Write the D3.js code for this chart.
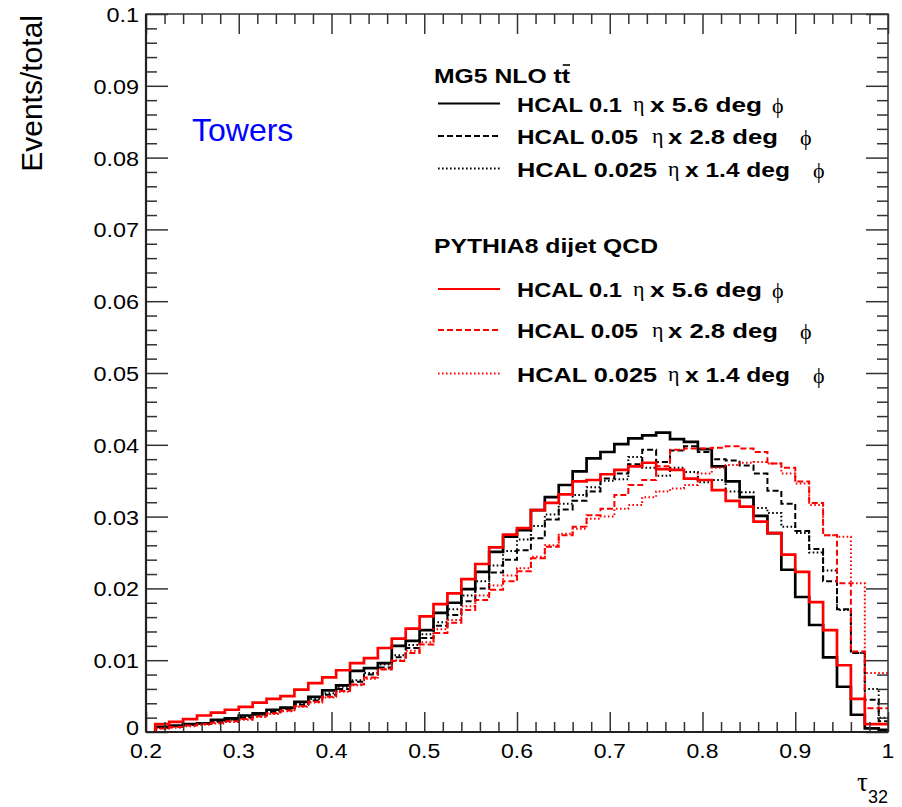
<!DOCTYPE html>
<html>
<head>
<meta charset="utf-8">
<script src="https://cdn.jsdelivr.net/npm/d3@7"></script>
<style>
  html, body { margin: 0; padding: 0; background: #ffffff; }
  svg { display: block; }
</style>
</head>
<body>
<svg id="chart" width="902" height="807"></svg>
<script>
// Lower edges of the tau32 bins (bin width 0.015)
const binLow = [0.210, 0.225, 0.240, 0.255, 0.270, 0.285, 0.300, 0.315, 0.330, 0.345,
                0.360, 0.375, 0.390, 0.405, 0.420, 0.435, 0.450, 0.465, 0.480, 0.495,
                0.510, 0.525, 0.540, 0.555, 0.570, 0.585, 0.600, 0.615, 0.630, 0.645,
                0.660, 0.675, 0.690, 0.705, 0.720, 0.735, 0.750, 0.765, 0.780, 0.795,
                0.810, 0.825, 0.840, 0.855, 0.870, 0.885, 0.900, 0.915, 0.930, 0.945,
                0.960, 0.975, 0.990];
const binWidth = 0.015;

// MG5 NLO ttbar, normalised
const mg5Coarse = [0.0007, 0.0009, 0.0011, 0.0012, 0.0017, 0.0019, 0.0023, 0.0026, 0.0031, 0.0034,
                   0.0042, 0.0049, 0.0058, 0.0065, 0.0085, 0.0089, 0.0096, 0.0120, 0.0127, 0.0142,
                   0.0166, 0.0180, 0.0199, 0.0223, 0.0251, 0.0272, 0.0281, 0.0309, 0.0327, 0.0344,
                   0.0363, 0.0381, 0.0390, 0.0401, 0.0409, 0.0413, 0.0417, 0.0408, 0.0404, 0.0394,
                   0.0370, 0.0349, 0.0327, 0.0301, 0.0277, 0.0226, 0.0188, 0.0149, 0.0104, 0.0063,
                   0.0024, 0.0005, 0.0003];
const mg5Medium = [0.0006, 0.0008, 0.0010, 0.0012, 0.0014, 0.0017, 0.0020, 0.0024, 0.0028, 0.0032,
                   0.0038, 0.0044, 0.0052, 0.0060, 0.0070, 0.0080, 0.0090, 0.0104, 0.0117, 0.0131,
                   0.0148, 0.0163, 0.0182, 0.0200, 0.0222, 0.0240, 0.0253, 0.0270, 0.0296, 0.0310,
                   0.0322, 0.0335, 0.0353, 0.0360, 0.0373, 0.0393, 0.0376, 0.0392, 0.0398, 0.0390,
                   0.0380, 0.0378, 0.0371, 0.0360, 0.0336, 0.0318, 0.0280, 0.0255, 0.0210, 0.0171,
                   0.0110, 0.0045, 0.0015];
const mg5Fine = [0.0006, 0.0008, 0.0010, 0.0012, 0.0015, 0.0017, 0.0021, 0.0024, 0.0029, 0.0033,
                 0.0039, 0.0046, 0.0054, 0.0063, 0.0072, 0.0082, 0.0094, 0.0107, 0.0121, 0.0136,
                 0.0153, 0.0171, 0.0190, 0.0210, 0.0232, 0.0252, 0.0268, 0.0287, 0.0303, 0.0318,
                 0.0330, 0.0341, 0.0350, 0.0352, 0.0383, 0.0368, 0.0357, 0.0368, 0.0362, 0.0348,
                 0.0351, 0.0335, 0.0334, 0.0312, 0.0305, 0.0286, 0.0277, 0.0250, 0.0225, 0.0170,
                 0.0110, 0.0060, 0.0020];

// PYTHIA8 dijet QCD, normalised
const pythiaCoarse = [0.0011, 0.0014, 0.0018, 0.0023, 0.0027, 0.0031, 0.0035, 0.0041, 0.0046, 0.0050,
                      0.0059, 0.0068, 0.0076, 0.0086, 0.0096, 0.0103, 0.0117, 0.0130, 0.0144, 0.0161,
                      0.0178, 0.0193, 0.0213, 0.0234, 0.0257, 0.0275, 0.0284, 0.0309, 0.0319, 0.0331,
                      0.0349, 0.0351, 0.0359, 0.0365, 0.0370, 0.0375, 0.0366, 0.0365, 0.0353, 0.0351,
                      0.0337, 0.0322, 0.0314, 0.0293, 0.0277, 0.0247, 0.0223, 0.0181, 0.0142, 0.0093,
                      0.0046, 0.0011, 0.0011];
const pythiaMedium = [0.0005, 0.0007, 0.0009, 0.0011, 0.0013, 0.0015, 0.0018, 0.0022, 0.0026, 0.0030,
                      0.0036, 0.0042, 0.0049, 0.0057, 0.0066, 0.0076, 0.0087, 0.0099, 0.0110, 0.0122,
                      0.0138, 0.0152, 0.0170, 0.0184, 0.0198, 0.0210, 0.0224, 0.0242, 0.0258, 0.0274,
                      0.0286, 0.0302, 0.0311, 0.0330, 0.0344, 0.0351, 0.0370, 0.0393, 0.0395, 0.0395,
                      0.0396, 0.0398, 0.0395, 0.0390, 0.0374, 0.0368, 0.0349, 0.0319, 0.0274, 0.0207,
                      0.0112, 0.0033, 0.0033];
const pythiaFine = [0.0005, 0.0006, 0.0008, 0.0010, 0.0012, 0.0014, 0.0017, 0.0021, 0.0025, 0.0029,
                    0.0035, 0.0041, 0.0048, 0.0056, 0.0065, 0.0074, 0.0088, 0.0100, 0.0113, 0.0125,
                    0.0143, 0.0156, 0.0175, 0.0190, 0.0204, 0.0218, 0.0228, 0.0244, 0.0260, 0.0276,
                    0.0283, 0.0297, 0.0300, 0.0311, 0.0316, 0.0327, 0.0335, 0.0339, 0.0344, 0.0360,
                    0.0368, 0.0372, 0.0375, 0.0376, 0.0374, 0.0360, 0.0346, 0.0316, 0.0274, 0.0272,
                    0.0207, 0.0082, 0.0082];

const xMajor = [0.2, 0.3, 0.4, 0.5, 0.6, 0.7, 0.8, 0.9, 1.0];
const xMajorLabels = ["0.2", "0.3", "0.4", "0.5", "0.6", "0.7", "0.8", "0.9", "1"];
const xMinor = [0.22, 0.24, 0.26, 0.28, 0.32, 0.34, 0.36, 0.38, 0.42, 0.44, 0.46, 0.48,
                0.52, 0.54, 0.56, 0.58, 0.62, 0.64, 0.66, 0.68, 0.72, 0.74, 0.76, 0.78,
                0.82, 0.84, 0.86, 0.88, 0.92, 0.94, 0.96, 0.98];
const yMajor = [0, 0.01, 0.02, 0.03, 0.04, 0.05, 0.06, 0.07, 0.08, 0.09, 0.1];
const yMajorLabels = ["0", "0.01", "0.02", "0.03", "0.04", "0.05", "0.06", "0.07", "0.08", "0.09", "0.1"];
const yMinor = [0.002, 0.004, 0.006, 0.008, 0.012, 0.014, 0.016, 0.018, 0.022, 0.024, 0.026, 0.028,
                0.032, 0.034, 0.036, 0.038, 0.042, 0.044, 0.046, 0.048, 0.052, 0.054, 0.056, 0.058,
                0.062, 0.064, 0.066, 0.068, 0.072, 0.074, 0.076, 0.078, 0.082, 0.084, 0.086, 0.088,
                0.092, 0.094, 0.096, 0.098];

const groups = [
  { title: "MG5 NLO tt", bar: true, color: "#000000",
    entries: [
      { name: "HCAL 0.1", eta: "x 5.6 deg", values: mg5Coarse, dash: null },
      { name: "HCAL 0.05", eta: "x 2.8 deg", values: mg5Medium, dash: "6,3" },
      { name: "HCAL 0.025", eta: "x 1.4 deg", values: mg5Fine, dash: "1.6,2.4" }
    ] },
  { title: "PYTHIA8 dijet QCD", bar: false, color: "#ff0000",
    entries: [
      { name: "HCAL 0.1", eta: "x 5.6 deg", values: pythiaCoarse, dash: null },
      { name: "HCAL 0.05", eta: "x 2.8 deg", values: pythiaMedium, dash: "6,3" },
      { name: "HCAL 0.025", eta: "x 1.4 deg", values: pythiaFine, dash: "1.6,2.4" }
    ] }
];

const plot = { left: 146, right: 888, top: 14, bottom: 732 };

const svg = d3.select("#chart");
const x = d3.scaleLinear().domain([0.2, 1.0]).range([plot.left, plot.right]);
const y = d3.scaleLinear().domain([0, 0.1]).range([plot.bottom, plot.top]);

const sans = "'Liberation Sans', Arial, Helvetica, sans-serif";
const serif = "'Liberation Serif', 'DejaVu Serif', serif";

// stretch a text element horizontally by a factor (keeps its anchor)
function stretch(sel, factor) {
  sel.each(function () {
    const len = this.getComputedTextLength();
    d3.select(this).attr("textLength", len * factor).attr("lengthAdjust", "spacingAndGlyphs");
  });
}

svg.append("defs").append("clipPath").attr("id", "plotClip")
  .append("rect")
  .attr("x", plot.left).attr("y", plot.top)
  .attr("width", plot.right - plot.left).attr("height", plot.bottom - plot.top);

// ---- histograms ----
function stepPoints(values) {
  const pts = [[binLow[0], 0]];
  values.forEach((v, i) => {
    pts.push([binLow[i], v]);
    pts.push([binLow[i] + binWidth, v]);
  });
  pts.push([binLow[binLow.length - 1] + binWidth, 0]);
  return pts;
}
const line = d3.line().x(d => x(d[0])).y(d => y(d[1]));

const histG = svg.append("g").attr("clip-path", "url(#plotClip)");
groups.forEach(g => {
  g.entries.forEach(e => {
    histG.append("path")
      .attr("d", line(stepPoints(e.values)))
      .attr("fill", "none")
      .attr("stroke", g.color)
      .attr("stroke-width", e.dash ? 2 : 2.7)
      .attr("stroke-dasharray", e.dash)
      .attr("stroke-linejoin", "miter");
  });
});

// ---- axes (ticks on all four sides, pointing inward) ----
const axisColor = "#333333";
function styleAxis(g) {
  g.select(".domain").remove();
  g.selectAll(".tick line").attr("stroke", axisColor).attr("stroke-width", 1.5);
  g.selectAll(".tick text").remove();
}
svg.append("g").attr("transform", `translate(0,${plot.bottom})`)
  .call(d3.axisTop(x).tickValues(xMajor).tickSize(20)).call(styleAxis);
svg.append("g").attr("transform", `translate(0,${plot.bottom})`)
  .call(d3.axisTop(x).tickValues(xMinor).tickSize(10)).call(styleAxis);
svg.append("g").attr("transform", `translate(0,${plot.top})`)
  .call(d3.axisBottom(x).tickValues(xMajor).tickSize(20)).call(styleAxis);
svg.append("g").attr("transform", `translate(0,${plot.top})`)
  .call(d3.axisBottom(x).tickValues(xMinor).tickSize(10)).call(styleAxis);
svg.append("g").attr("transform", `translate(${plot.left},0)`)
  .call(d3.axisRight(y).tickValues(yMajor).tickSize(22)).call(styleAxis);
svg.append("g").attr("transform", `translate(${plot.left},0)`)
  .call(d3.axisRight(y).tickValues(yMinor).tickSize(11)).call(styleAxis);
svg.append("g").attr("transform", `translate(${plot.right},0)`)
  .call(d3.axisLeft(y).tickValues(yMajor).tickSize(22)).call(styleAxis);
svg.append("g").attr("transform", `translate(${plot.right},0)`)
  .call(d3.axisLeft(y).tickValues(yMinor).tickSize(11)).call(styleAxis);

// frame
svg.append("rect")
  .attr("x", plot.left).attr("y", plot.top)
  .attr("width", plot.right - plot.left).attr("height", plot.bottom - plot.top)
  .attr("fill", "none").attr("stroke", axisColor).attr("stroke-width", 1.5);
svg.append("line")
  .attr("x1", plot.left).attr("x2", plot.right).attr("y1", plot.bottom).attr("y2", plot.bottom)
  .attr("stroke", "#222").attr("stroke-width", 2.2);
svg.append("line")
  .attr("x1", plot.left).attr("x2", plot.left).attr("y1", plot.top).attr("y2", plot.bottom)
  .attr("stroke", "#222").attr("stroke-width", 2.2);

// tick labels
const xl = svg.append("g").selectAll("text").data(xMajor).join("text")
  .attr("x", d => x(d)).attr("y", plot.bottom + 26)
  .attr("text-anchor", "middle")
  .attr("font-family", sans).attr("font-size", 20).attr("fill", "#000")
  .text((d, i) => xMajorLabels[i]);
stretch(xl, 1.15);

// the zero label sits a little higher so it stays clear of the x labels
const yl = svg.append("g").selectAll("text").data(yMajor).join("text")
  .attr("x", plot.left - 7).attr("y", d => y(d) + (d === 0 ? 3 : 8))
  .attr("text-anchor", "end")
  .attr("font-family", sans).attr("font-size", 19.5).attr("fill", "#000")
  .text((d, i) => yMajorLabels[i]);
stretch(yl, 1.2);

// axis titles
svg.append("text")
  .attr("transform", "translate(42,15) rotate(-90)")
  .attr("text-anchor", "end")
  .attr("font-family", sans).attr("font-size", 30).attr("fill", "#000")
  .text("Events/total");

const xt = svg.append("text").attr("x", plot.right).attr("y", 791)
  .attr("text-anchor", "end").attr("fill", "#000");
xt.append("tspan").attr("font-family", serif).attr("font-size", 27).text("τ");
xt.append("tspan").attr("font-family", sans).attr("font-size", 18).attr("dy", 12).text("32");

// "Towers" label
svg.append("text").attr("x", 192).attr("y", 141)
  .attr("font-family", sans).attr("font-size", 32).attr("fill", "#0000ff")
  .text("Towers");

// ---- legend ----
const legendLayout = [
  { titleY: 83, titleW: 136, rowY: [103.5, 136, 168.5] },
  { titleY: 253, titleW: 224, rowY: [289, 330, 373.5] }
];
const etaPos = [
  { eta: 633, rest: 650, restW: 112, phi: 772, nameW: 105 },
  { eta: 652, rest: 668, restW: 110, phi: 800, nameW: 121 },
  { eta: 668, rest: 685, restW: 105, phi: 813, nameW: 140 }
];
groups.forEach((g, gi) => {
  const L = legendLayout[gi];
  const title = svg.append("text").attr("x", 434).attr("y", L.titleY)
    .attr("font-family", sans).attr("font-weight", "bold").attr("font-size", 20.5).attr("fill", "#000")
    .attr("textLength", L.titleW).attr("lengthAdjust", "spacingAndGlyphs")
    .text(g.title);
  if (g.bar) {
    // anti-top bar over the final "t"
    const node = title.node();
    const n = g.title.length - 1;
    const p0 = node.getStartPositionOfChar(n);
    const p1 = node.getEndPositionOfChar(n);
    svg.append("line")
      .attr("x1", p0.x + 1).attr("x2", p1.x)
      .attr("y1", L.titleY - 18).attr("y2", L.titleY - 18)
      .attr("stroke", "#000").attr("stroke-width", 1.6);
  }
  g.entries.forEach((e, ei) => {
    const ry = L.rowY[ei];
    const P = etaPos[ei];
    svg.append("line")
      .attr("x1", 438).attr("x2", 500).attr("y1", ry).attr("y2", ry)
      .attr("stroke", g.color).attr("stroke-width", 2)
      .attr("stroke-dasharray", e.dash);
    const base = ry + 8;
    svg.append("text").attr("x", 517).attr("y", base)
      .attr("font-family", sans).attr("font-weight", "bold").attr("font-size", 21).attr("fill", "#000")
      .attr("textLength", P.nameW).attr("lengthAdjust", "spacingAndGlyphs")
      .text(e.name);
    svg.append("text").attr("x", P.eta).attr("y", base - 1)
      .attr("font-family", serif).attr("font-size", 22).attr("fill", "#000").text("η");
    svg.append("text").attr("x", P.rest).attr("y", base)
      .attr("font-family", sans).attr("font-weight", "bold").attr("font-size", 21).attr("fill", "#000")
      .attr("textLength", P.restW).attr("lengthAdjust", "spacingAndGlyphs")
      .text(e.eta);
    svg.append("text").attr("x", P.phi).attr("y", base + 1)
      .attr("font-family", serif).attr("font-size", 22).attr("fill", "#000").text("ϕ");
  });
});
</script>
</body>
</html>
